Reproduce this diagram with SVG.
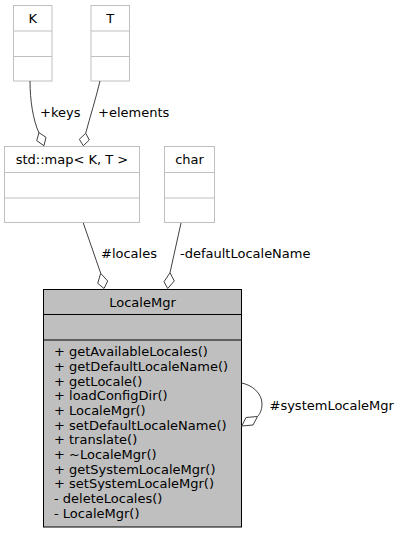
<svg xmlns="http://www.w3.org/2000/svg" width="400" height="533" viewBox="0 0 400 533">
<defs>
<style>
text{font-family:"DejaVu Sans","Liberation Sans",sans-serif;font-size:13px;fill:#000}
.c{text-anchor:middle}
.box{fill:#fff;stroke:#bfbfbf;stroke-width:1}
.main{fill:#bfbfbf;stroke:#000;stroke-width:1}
.sepg{stroke:#bfbfbf;stroke-width:1}
.sepm{stroke:#000;stroke-width:1}
.edge{fill:none;stroke:#404040;stroke-width:1}
.dia{fill:#fff;stroke:#404040;stroke-width:1}
</style>
</defs>
<rect width="400" height="533" fill="#fff"/>
<g id="node-K">
<rect class="box" x="13.5" y="5.5" width="38.5" height="75.5"/>
<line class="sepg" x1="13.5" y1="31" x2="52" y2="31"/>
<line class="sepg" x1="13.5" y1="56.5" x2="52" y2="56.5"/>
<text class="c" x="32.7" y="23">K</text>
</g>
<g id="node-T">
<rect class="box" x="91" y="5.5" width="38.5" height="75.5"/>
<line class="sepg" x1="91" y1="31" x2="129.5" y2="31"/>
<line class="sepg" x1="91" y1="56.5" x2="129.5" y2="56.5"/>
<text class="c" x="110.2" y="23">T</text>
</g>
<g id="node-map">
<rect class="box" x="4.5" y="146.5" width="135" height="76"/>
<line class="sepg" x1="4.5" y1="172.5" x2="139.5" y2="172.5"/>
<line class="sepg" x1="4.5" y1="198" x2="139.5" y2="198"/>
<text class="c" x="72" y="164">std::map&lt; K, T &gt;</text>
</g>
<g id="node-char">
<rect class="box" x="164.5" y="146.5" width="50" height="76"/>
<line class="sepg" x1="164.5" y1="172.5" x2="214.5" y2="172.5"/>
<line class="sepg" x1="164.5" y1="198" x2="214.5" y2="198"/>
<text class="c" x="189.5" y="164">char</text>
</g>
<g id="node-LocaleMgr">
<rect class="main" x="43.5" y="289.5" width="198" height="237.5"/>
<line class="sepm" x1="43.5" y1="314.5" x2="241.5" y2="314.5"/>
<line class="sepm" x1="43.5" y1="340" x2="241.5" y2="340"/>
<text class="c" x="142.5" y="306.5">LocaleMgr</text>
<text x="54" y="356.4">+ getAvailableLocales()</text>
<text x="54" y="371">+ getDefaultLocaleName()</text>
<text x="54" y="385.7">+ getLocale()</text>
<text x="54" y="400.3">+ loadConfigDir()</text>
<text x="54" y="415">+ LocaleMgr()</text>
<text x="54" y="429.6">+ setDefaultLocaleName()</text>
<text x="54" y="444.3">+ translate()</text>
<text x="54" y="458.9">+ ~LocaleMgr()</text>
<text x="54" y="473.6">+ getSystemLocaleMgr()</text>
<text x="54" y="488.2">+ setSystemLocaleMgr()</text>
<text x="54" y="502.9">- deleteLocales()</text>
<text x="54" y="517.5">- LocaleMgr()</text>
</g>
<g id="connectors">
<path class="edge" d="M30,81 C30,100 33,120 39,133"/>
<polygon class="dia" points="39,132.7 46,137.3 44,145.7 36.7,140.7"/>
<text x="40" y="117">+keys</text>
<path class="edge" d="M100,81 C96,98 90,117 85.7,133.3"/>
<polygon class="dia" points="85.7,133.3 89.3,140 83.3,145.7 79.3,139.3"/>
<text x="98" y="117">+elements</text>
<path class="edge" d="M83.3,223 L100.7,273.3"/>
<polygon class="dia" points="100.7,273.3 107.7,281 104,288.5 97.7,283.3"/>
<text x="101" y="258">#locales</text>
<path class="edge" d="M181,223 L170,272.7"/>
<polygon class="dia" points="170,272.7 174.3,281 167.7,288.5 164,281.7"/>
<text x="180" y="258">-defaultLocaleName</text>
<path class="edge" d="M241.5,383 C252,385 262,393 262,404 C262,411 259,415 257.5,416.5"/>
<polygon class="dia" points="257.5,416.5 253,425 241.7,426 246,417.5"/>
<text x="269.5" y="410">#systemLocaleMgr</text>
</g>
</svg>
